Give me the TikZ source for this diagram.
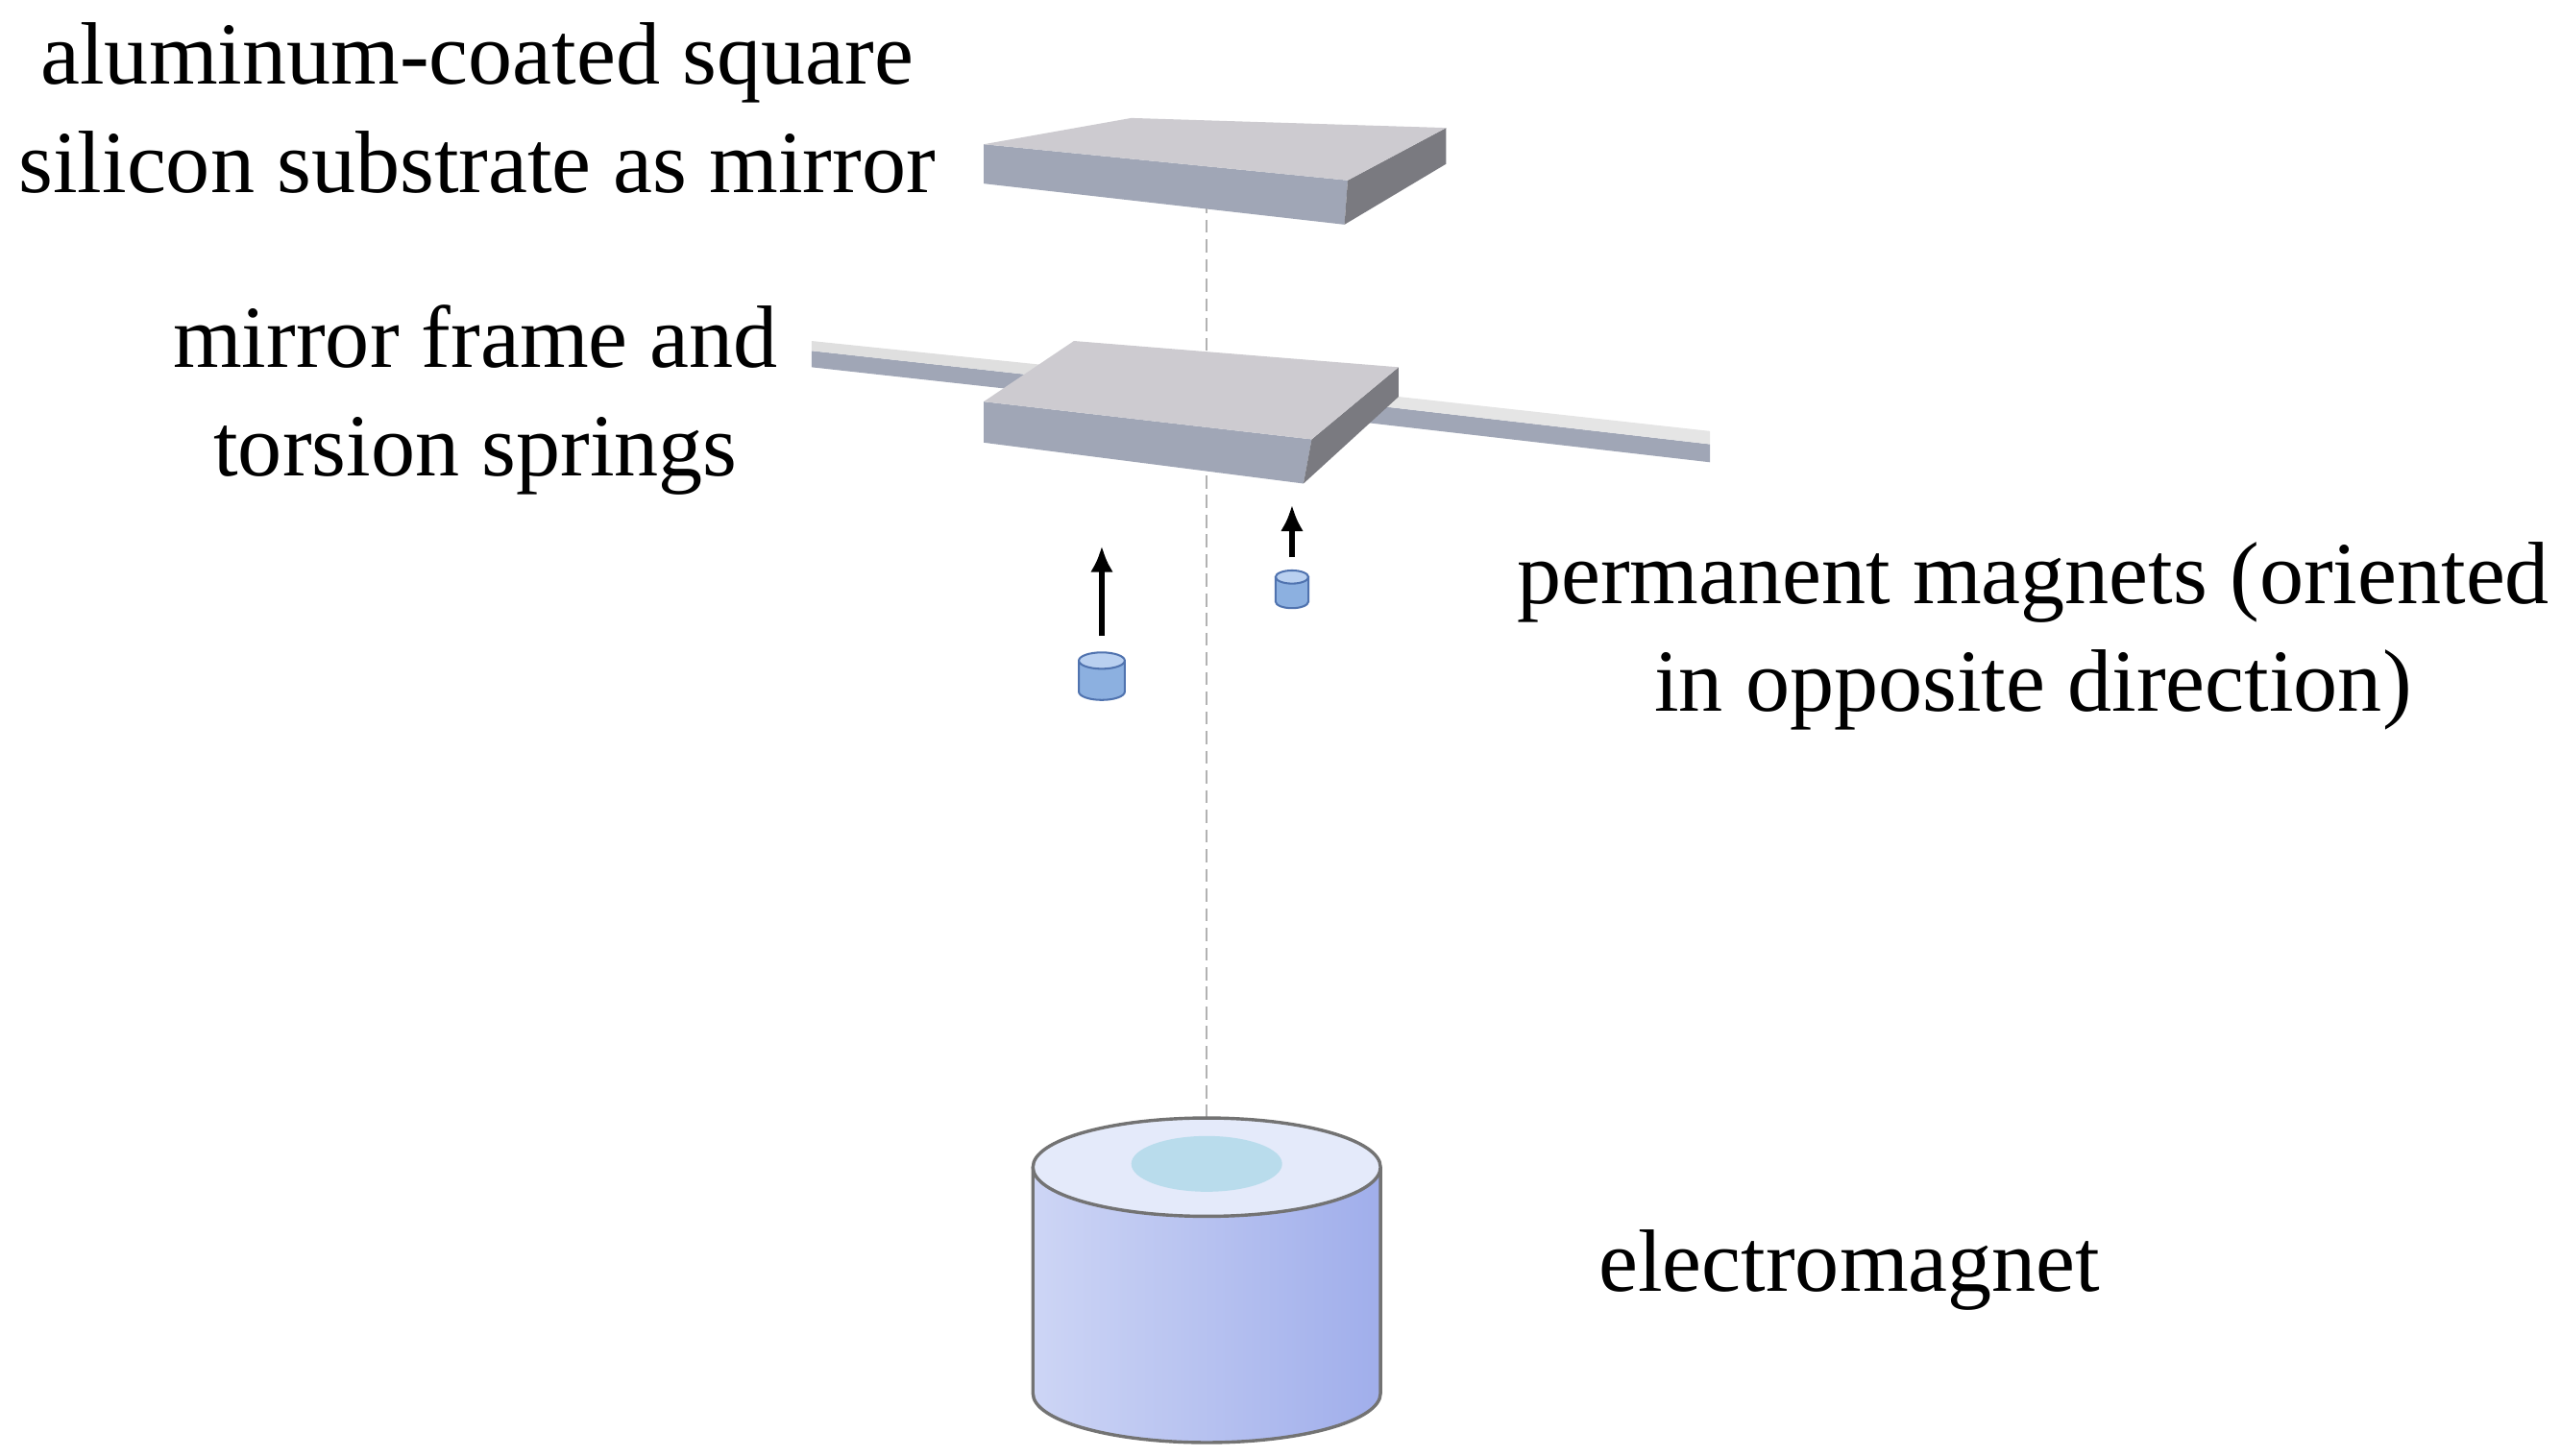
\documentclass[tikz,border=0pt]{standalone}
\usepackage{fontspec}
\setmainfont{Liberation Serif}
\usetikzlibrary{arrows.meta}
\definecolor{cfront}{RGB}{160,166,182}
\definecolor{cside}{RGB}{122,122,128}
\definecolor{ctop}{RGB}{205,203,208}
\definecolor{cmag}{RGB}{140,176,224}
\definecolor{cmagd}{RGB}{80,115,175}
\definecolor{cmagt}{RGB}{185,208,240}
\definecolor{cemL}{RGB}{205,213,245}
\definecolor{cemR}{RGB}{160,174,235}
\definecolor{cemT}{RGB}{228,234,250}
\definecolor{cemI}{RGB}{185,220,236}
\begin{document}
\begin{tikzpicture}[x=1pt,y=-1pt,
  lbl/.style={font=\fontsize{54}{66}\selectfont, align=center, inner sep=0pt},
  frontf/.style={fill=cfront, draw=none},
  sidef/.style={fill=cside, draw=none},
  topf/.style={fill=ctop, draw=none},
  mag/.style={fill=cmag, draw=cmagd, line width=1.2pt},
  arr/.style={-{Latex[length=16pt,width=14pt]}, line width=3.5pt},
]
\useasboundingbox (0,0) rectangle (1562,888);
% dashed axis
\coordinate (axt) at (736,110);
\coordinate (axb) at (736,700);
\draw[gray!60, dash pattern=on 8pt off 4pt, line width=1pt] (axt) -- (axb);
% top plate
\fill[frontf] (600,88) -- (822,110) -- (820,137) -- (600,112) -- cycle;
\fill[sidef] (822,110) -- (882,78) -- (882,100) -- (820,137) -- cycle;
\fill[topf] (600,88) -- (690,72) -- (882,78) -- (822,110) -- cycle;
% left spring
\fill[frontf] (495,214) -- (640,230) -- (640,240) -- (495,224) -- cycle;
\fill[gray!25] (495,208) -- (640,223) -- (640,230) -- (495,214) -- cycle;
% right spring
\fill[frontf] (835,247) -- (1043,271) -- (1043,282) -- (835,258) -- cycle;
\fill[gray!20] (835,240) -- (1043,263) -- (1043,271) -- (835,247) -- cycle;
% frame
\fill[frontf] (600,245) -- (800,268) -- (795,295) -- (600,270) -- cycle;
\fill[sidef] (800,268) -- (853,224) -- (853,242) -- (795,295) -- cycle;
\fill[topf] (600,245) -- (655,208) -- (853,224) -- (800,268) -- cycle;
% magnets
\filldraw[mag] (658,403) -- (658,422) arc[start angle=180,end angle=0,x radius=14,y radius=5] -- (686,403) -- cycle;
\draw[mag, fill=cmagt] (672,403) ellipse[x radius=14,y radius=5];
\filldraw[mag] (778,352) -- (778,367) arc[start angle=180,end angle=0,x radius=10,y radius=4] -- (798,352) -- cycle;
\draw[mag, fill=cmagt] (788,352) ellipse[x radius=10,y radius=4];
\coordinate (a1s) at (672,388); \coordinate (a1e) at (672,333);
\coordinate (a2s) at (788,340); \coordinate (a2e) at (788,308);
\draw[arr] (a1s) -- (a1e);
\draw[arr] (a2s) -- (a2e);
% electromagnet
\shade[left color=cemL, right color=cemR]
  (630,712) -- (630,850) arc[start angle=180,end angle=0,x radius=106,y radius=30] -- (842,712) -- cycle;
\draw[gray!90!black, line width=2pt] (630,712) -- (630,850) arc[start angle=180,end angle=0,x radius=106,y radius=30] -- (842,712);
\draw[gray!90!black, line width=2pt, fill=cemT] (736,712) ellipse[x radius=106,y radius=30];
\fill[cemI] (736,710) ellipse[x radius=46,y radius=17];
% labels
\node[lbl] (l1) at (291,66) {aluminum-coated square\\silicon substrate as mirror};
\node[lbl] (l2) at (290,244) {mirror frame and\\torsion springs};
\node[lbl] (l3) at (1240,388) {permanent magnets (oriented\\in opposite direction)};
\node[lbl] (l4) at (1128,775) {electromagnet};
\end{tikzpicture}
\end{document}
